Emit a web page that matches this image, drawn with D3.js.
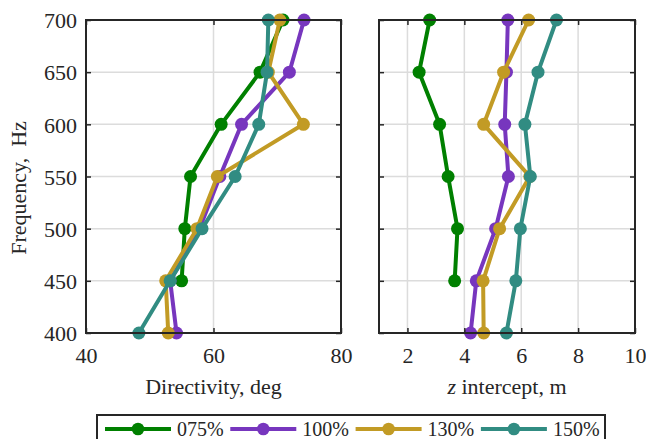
<!DOCTYPE html>
<html>
<head>
<meta charset="utf-8">
<script src="https://cdn.jsdelivr.net/npm/d3@7"></script>
<style>
  html, body { margin: 0; padding: 0; background: #fff; }
  svg { display: block; font-family: "Liberation Serif", "Times New Roman", serif; }
  svg text { font-family: "Liberation Serif", "Times New Roman", serif !important; }
</style>
</head>
<body>
<svg id="chart" width="646" height="439"></svg>
<script>
// Frequencies (Hz) at which each configuration was measured
const frequencies = [400, 450, 500, 550, 600, 650, 700];

const seriesNames = ["075%", "100%", "130%", "150%"];
const seriesColors = ["#008000", "#7736BE", "#C29B25", "#318C82"];

// Directivity (deg) per series; null where there is no measurement
const directivity075 = [null, 55.0, 55.5, 56.4, 61.2, 67.3, 70.9];
const directivity100 = [54.2, 53.2, 57.8, 61.0, 64.4, 71.9, 74.2];
const directivity130 = [52.9, 52.5, 57.4, 60.6, 74.1, 68.6, 70.4];
const directivity150 = [48.3, 53.2, 58.2, 63.4, 67.1, 68.4, 68.6];

// z intercept (m) per series
const intercept075 = [null, 3.66, 3.76, 3.43, 3.13, 2.41, 2.78];
const intercept100 = [4.22, 4.42, 5.10, 5.55, 5.42, 5.48, 5.53];
const intercept130 = [4.68, 4.66, 5.24, 6.30, 4.68, 5.38, 6.26];
const intercept150 = [5.48, 5.81, 5.97, 6.32, 6.13, 6.59, 7.24];

const freqTicks = [400, 450, 500, 550, 600, 650, 700];
const directivityTicks = [40, 60, 80];
const interceptTicks = [2, 4, 6, 8, 10];

const svg = d3.select("#chart");
const frame = "#262626";
const gridColor = "#dcdcdc";
const fontSize = 22;
const legendFontSize = 20;

const y = d3.scaleLinear().domain([400, 700]).range([333, 20]);

function drawPanel(opts) {
  const x = d3.scaleLinear().domain(opts.domain).range(opts.range);
  const g = svg.append("g");
  const [x0, x1] = opts.range;
  const [yb, yt] = y.range();

  // grid
  g.append("g").selectAll("line").data(freqTicks.slice(1, -1)).join("line")
    .attr("x1", x0).attr("x2", x1).attr("y1", d => y(d)).attr("y2", d => y(d))
    .attr("stroke", gridColor).attr("stroke-width", 1.5);
  g.append("g").selectAll("line").data(opts.gridX).join("line")
    .attr("x1", d => x(d)).attr("x2", d => x(d)).attr("y1", yb).attr("y2", yt)
    .attr("stroke", gridColor).attr("stroke-width", 1.5);

  // data lines and markers
  const line = d3.line()
    .defined(d => d.v != null)
    .x(d => x(d.v)).y(d => y(d.f));
  opts.series.forEach((vals, i) => {
    const pts = frequencies.map((f, k) => ({ f, v: vals[k] }));
    g.append("path").datum(pts)
      .attr("d", line).attr("fill", "none")
      .attr("stroke", seriesColors[i]).attr("stroke-width", 4)
      .attr("stroke-linejoin", "round");
    g.append("g").selectAll("circle").data(pts.filter(d => d.v != null)).join("circle")
      .attr("cx", d => x(d.v)).attr("cy", d => y(d.f)).attr("r", 6.5)
      .attr("fill", seriesColors[i]);
  });

  // axes with inward ticks on all sides
  const tickLen = 5;
  const axL = d3.axisLeft(y).tickValues(freqTicks).tickSizeInner(-tickLen).tickSizeOuter(0)
    .tickFormat(opts.showY ? d3.format("d") : "");
  const axR = d3.axisRight(y).tickValues(freqTicks).tickSizeInner(-tickLen).tickSizeOuter(0).tickFormat("");
  const axB = d3.axisBottom(x).tickValues(opts.ticks).tickSizeInner(-tickLen).tickSizeOuter(0).tickFormat(d3.format("d"));
  const axT = d3.axisTop(x).tickValues(opts.ticks).tickSizeInner(-tickLen).tickSizeOuter(0).tickFormat("");

  const styleAxis = (sel) => {
    sel.attr("font-family", null).attr("font-size", null);
    sel.select(".domain").remove();
    sel.selectAll(".tick line").attr("stroke", frame).attr("stroke-width", 1.5);
    sel.selectAll(".tick text").attr("fill", "#262626")
      .style("font-size", fontSize + "px");
  };
  g.append("g").attr("transform", `translate(${x0},0)`).call(axL).call(styleAxis)
    .selectAll(".tick text").attr("x", -9).attr("dy", "0.35em");
  g.append("g").attr("transform", `translate(${x1},0)`).call(axR).call(styleAxis);
  g.append("g").attr("transform", `translate(0,${yb})`).call(axB).call(styleAxis)
    .selectAll(".tick text").attr("y", 14).attr("dy", "0.71em");
  g.append("g").attr("transform", `translate(0,${yt})`).call(axT).call(styleAxis);

  // frame
  g.append("rect").attr("x", x0).attr("y", yt).attr("width", x1 - x0).attr("height", yb - yt)
    .attr("fill", "none").attr("stroke", frame).attr("stroke-width", 2);

  // x label
  const lbl = g.append("text").attr("x", (x0 + x1) / 2).attr("y", 394)
    .attr("text-anchor", "middle").attr("fill", "#262626")
    .style("font-size", fontSize + "px");
  opts.xLabel(lbl);
}

drawPanel({
  domain: [40, 80], range: [86, 341], ticks: directivityTicks, gridX: [60], showY: true,
  series: [directivity075, directivity100, directivity130, directivity150],
  xLabel: t => t.text("Directivity, deg")
});

drawPanel({
  domain: [1, 10], range: [379, 635], ticks: interceptTicks, gridX: [2, 4, 6, 8], showY: false,
  series: [intercept075, intercept100, intercept130, intercept150],
  xLabel: t => {
    t.append("tspan").style("font-style", "italic").text("z");
    t.append("tspan").text(" intercept, m");
  }
});

// y label
svg.append("text")
  .attr("transform", "translate(26,188) rotate(-90)")
  .attr("text-anchor", "middle").attr("fill", "#262626")
  .style("font-size", fontSize + "px")
  .text("Frequency,\u00a0 Hz");

// legend
const legend = svg.append("g");
legend.append("rect").attr("x", 97).attr("y", 415).attr("width", 508).attr("height", 40)
  .attr("fill", "#fff").attr("stroke", frame).attr("stroke-width", 2);
const legendStep = 125.3;
seriesNames.forEach((name, i) => {
  const lx = 105 + i * legendStep;
  const ly = 429;
  legend.append("line").attr("x1", lx).attr("x2", lx + 66).attr("y1", ly).attr("y2", ly)
    .attr("stroke", seriesColors[i]).attr("stroke-width", 4);
  legend.append("circle").attr("cx", lx + 33).attr("cy", ly).attr("r", 6.3).attr("fill", seriesColors[i]);
  legend.append("text").attr("x", lx + 72).attr("y", 436).attr("fill", "#262626")
    .style("font-size", legendFontSize + "px").text(name);
});
</script>
</body>
</html>
